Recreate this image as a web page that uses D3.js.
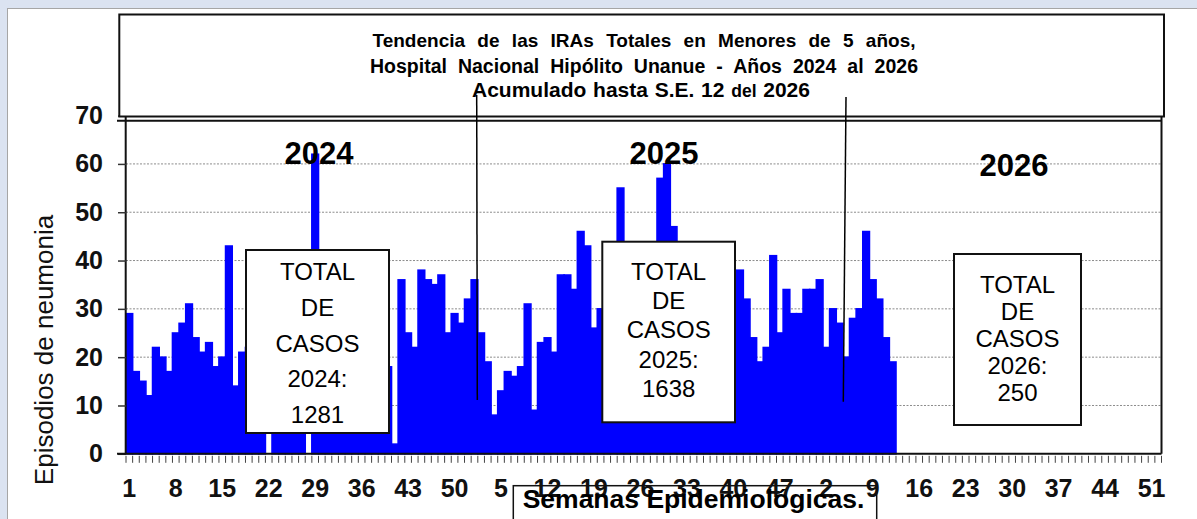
<!DOCTYPE html>
<html>
<head>
<meta charset="utf-8">
<script src="https://cdn.jsdelivr.net/npm/d3@7"></script>
<style>
  html, body { margin: 0; padding: 0; background: #dbe3f1; }
  svg { display: block; }
</style>
</head>
<body>
<svg id="chart" width="1197" height="519"></svg>
<script>
"use strict";

// weekly episodes (bars behind the total boxes are estimates)
const years = [2024, 2025, 2026];
const weeksPerYear = 52;
const cases2024 = [29, 17, 15, 12, 22, 20, 17, 25, 27, 31, 24, 21, 23, 18, 20, 43, 14, 21, 22,
  20, 18, 0, 24, 26, 28, 25, 22, 0, 62, 30, 28, 27, 26, 29, 27, 25, 26, 28, 27,
  18, 2, 36, 25, 22, 38, 36, 35, 37, 25, 29, 27, 32];
const cases2025 = [36, 25, 19, 8, 13, 17, 16, 18, 31, 9, 23, 24, 21, 37, 37, 34, 46, 43, 26, 30,
  35, 40, 55, 38, 36, 33, 39, 42, 57, 60, 47, 40, 37, 34, 30, 32, 28, 31, 27, 23,
  38, 32, 24, 19, 22, 41, 25, 34, 29, 29, 34, 34];
const cases2026 = [36, 22, 30, 27, 20, 28, 30, 46, 36, 32, 24, 19];
const totals = [1281, 1638, 250];
const yTicks = [0, 10, 20, 30, 40, 50, 60, 70];
const gridTicks = [10, 20, 30, 40, 50, 60];
const labelEvery = 7;

const titleLines = [
  "Tendencia de las IRAs Totales en Menores de 5 años,",
  "Hospital Nacional Hipólito Unanue - Años 2024 al 2026"
];
const yTitle = "Episodios de neumonia";
const xTitle = "Semanas Epidemiológicas.";

// categories: one per week over the three years
const categories = [];
years.forEach(yr => {
  for (let w = 1; w <= weeksPerYear; w++) categories.push({ key: yr + "-" + w, year: yr, week: w });
});
const seriesByYear = { 2024: cases2024, 2025: cases2025, 2026: cases2026 };
const bars = categories
  .map(c => ({ key: c.key, value: seriesByYear[c.year][c.week - 1] }))
  .filter(d => d.value !== undefined);

const svg = d3.select("#chart");
const FONT = "'Liberation Sans', Arial, sans-serif";

const x = d3.scaleBand().domain(categories.map(c => c.key)).range([126, 1161.5]).padding(0);
const y = d3.scaleLinear().domain([0, 70]).range([453.8, 115.6]);

// spread the words of a text so it spans a given width
function fitWords(sel, width) {
  const node = sel.node();
  const spaces = (node.textContent.match(/ /g) || []).length;
  const extra = width - node.getComputedTextLength();
  if (spaces > 0 && extra > 0) sel.attr("word-spacing", extra / spaces);
}

// white panel
svg.append("rect").attr("x", 7.5).attr("y", 8.5).attr("width", 1200).attr("height", 520)
  .attr("fill", "#fff").attr("stroke", "#a6a6a6");

// gridlines
svg.append("g").selectAll("line").data(gridTicks).join("line")
  .attr("x1", x.range()[0]).attr("x2", x.range()[1])
  .attr("y1", d => y(d)).attr("y2", d => y(d))
  .attr("stroke", "#8c8c8c").attr("stroke-width", 1).attr("stroke-dasharray", "2,1.5");

// bars
svg.append("g").selectAll("rect").data(bars.filter(d => d.value > 0)).join("rect")
  .attr("x", d => x(d.key)).attr("width", x.bandwidth())
  .attr("y", d => y(d.value)).attr("height", d => y(0) - y(d.value))
  .attr("fill", "#0000ff").attr("stroke", "#0000ff").attr("stroke-width", 1.6);

// plot frame
const frame = svg.append("g").attr("stroke", "#111").attr("stroke-width", 2);
frame.append("line").attr("x1", 125.7).attr("x2", 125.7).attr("y1", 116).attr("y2", y(0));
frame.append("line").attr("x1", 1161.5).attr("x2", 1161.5).attr("y1", 116).attr("y2", y(0));
frame.append("line").attr("x1", 117).attr("x2", 1161.5).attr("y1", 120.7).attr("y2", 120.7);

// y axis
const yAxis = svg.append("g").attr("transform", "translate(126,0)")
  .call(d3.axisLeft(y).tickValues(yTicks).tickSize(8).tickPadding(15));
yAxis.select(".domain").remove();
yAxis.selectAll(".tick line").attr("stroke", "#333").attr("stroke-width", 1.5);
yAxis.selectAll(".tick text").attr("font-family", FONT).attr("font-size", 25)
  .attr("font-weight", "bold").attr("fill", "#111");

// baseline
svg.append("line").attr("x1", 117).attr("x2", 1161.5).attr("y1", y(0)).attr("y2", y(0))
  .attr("stroke", "#111").attr("stroke-width", 2);

// x ticks at week boundaries
const tickXs = categories.map(c => x(c.key)).concat([x.range()[1]]);
svg.append("g").selectAll("line").data(tickXs).join("line")
  .attr("x1", d => d).attr("x2", d => d)
  .attr("y1", y(0) + 2).attr("y2", y(0) + 9)
  .attr("stroke", "#444").attr("stroke-width", 1);

// x tick labels every 7 weeks
svg.append("g").selectAll("text")
  .data(categories.filter((c, i) => i % labelEvery === 0)).join("text")
  .attr("x", d => x(d.key) + x.bandwidth() / 2).attr("y", 496.5)
  .attr("text-anchor", "middle").attr("font-family", FONT).attr("font-size", 25)
  .attr("font-weight", "bold").attr("fill", "#111")
  .text(d => d.week);

// year labels
const yearLabelPos = [[319, 164], [664, 164], [1014, 176]];
svg.append("g").selectAll("text").data(years).join("text")
  .attr("x", (d, i) => yearLabelPos[i][0]).attr("y", (d, i) => yearLabelPos[i][1])
  .attr("text-anchor", "middle").attr("font-family", FONT).attr("font-size", 31)
  .attr("font-weight", "bold").attr("fill", "#000").text(d => d);

// total boxes
const boxes = [
  { x0: 246, x1: 389, y0: 250, y1: 433, first: 280, step: 35.8 },
  { x0: 602.3, x1: 735, y0: 241.7, y1: 422.3, first: 280, step: 29.2 },
  { x0: 954, x1: 1081, y0: 254, y1: 425, first: 293.3, step: 26.9 }
];
boxes.forEach((b, i) => {
  const g = svg.append("g");
  g.append("rect").attr("x", b.x0).attr("y", b.y0).attr("width", b.x1 - b.x0).attr("height", b.y1 - b.y0)
    .attr("fill", "#fff").attr("stroke", "#111").attr("stroke-width", 2);
  const lines = ["TOTAL", "DE", "CASOS", years[i] + ":", String(totals[i])];
  g.selectAll("text").data(lines).join("text")
    .attr("x", (b.x0 + b.x1) / 2).attr("y", (d, k) => b.first + k * b.step)
    .attr("text-anchor", "middle").attr("font-family", FONT).attr("font-size", 24)
    .attr("fill", "#000").text(d => d);
});

// leader lines from the title box
const leaders = [[476.7, 95, 477.3, 400], [846, 97, 843.3, 401.7]];

// title box
svg.append("rect").attr("x", 119.3).attr("y", 14.5).attr("width", 1164 - 119.3).attr("height", 102)
  .attr("fill", "#fff").attr("stroke", "#111").attr("stroke-width", 2);
const titleSizes = [19, 19.5];
const titleWidths = [543, 548];
const titleBase = [46.7, 72.7];
titleLines.forEach((line, i) => {
  const t = svg.append("text").attr("x", 644).attr("y", titleBase[i]).attr("text-anchor", "middle")
    .attr("font-family", FONT).attr("font-size", titleSizes[i]).attr("font-weight", "bold")
    .attr("fill", "#000").text(line);
  fitWords(t, titleWidths[i]);
});
const t3 = svg.append("text").attr("x", 641).attr("y", 97).attr("text-anchor", "middle")
  .attr("font-family", FONT).attr("font-size", 21).attr("font-weight", "bold").attr("fill", "#000");
t3.append("tspan").text("Acumulado hasta S.E. 12 ");
t3.append("tspan").attr("font-size", 17.5).text("del");
t3.append("tspan").text(" 2026");
fitWords(t3, 338);

svg.append("g").selectAll("line").data(leaders).join("line")
  .attr("x1", d => d[0]).attr("y1", d => d[1]).attr("x2", d => d[2]).attr("y2", d => d[3])
  .attr("stroke", "#000").attr("stroke-width", 1.5);

// y title
svg.append("text").attr("transform", "translate(53,350) rotate(-90)")
  .attr("text-anchor", "middle").attr("font-family", FONT).attr("font-size", 26)
  .attr("fill", "#111").text(yTitle);

// x title box
svg.append("rect").attr("x", 513.3).attr("y", 485.7).attr("width", 363.4).attr("height", 45)
  .attr("fill", "none").attr("stroke", "#111").attr("stroke-width", 1.5);
svg.append("text").attr("x", 693.5).attr("y", 507.7).attr("text-anchor", "middle")
  .attr("font-family", FONT).attr("font-size", 26.5).attr("font-weight", "bold")
  .attr("fill", "#000").text(xTitle);
</script>
</body>
</html>
